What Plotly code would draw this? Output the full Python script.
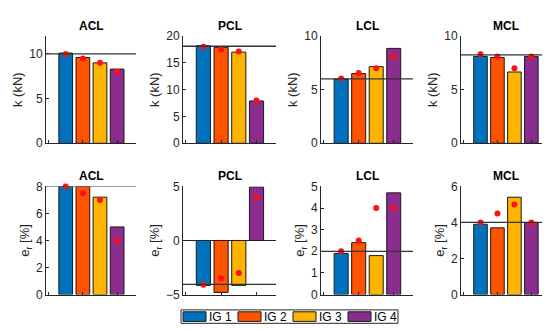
import plotly.graph_objects as go

ligaments = ["ACL", "PCL", "LCL", "MCL"]
groups = ["IG 1", "IG 2", "IG 3", "IG 4"]
colors = ["#0072BD", "#FF5300", "#FFB400", "#8B2C8F"]
xcat = [1, 2, 3, 4]

# Row 1: stiffness k (kN)
k_bars = {
    "ACL": [10.1, 9.6, 9.0, 8.3],
    "PCL": [18.2, 17.9, 17.0, 7.9],
    "LCL": [6.0, 6.5, 7.15, 8.85],
    "MCL": [8.1, 8.0, 6.65, 8.1],
}
k_dots = {
    "ACL": [10.0, 9.5, 9.0, 8.0],
    "PCL": [18.0, 17.5, 17.1, 8.0],
    "LCL": [6.05, 6.55, 7.0, 8.1],
    "MCL": [8.3, 8.1, 7.0, 8.1],
}
k_ref = {"ACL": 10.0, "PCL": 18.1, "LCL": 6.0, "MCL": 8.25}
k_range = {"ACL": [0, 12], "PCL": [0, 20], "LCL": [0, 10], "MCL": [0, 10]}
k_ticks = {"ACL": [0, 5, 10], "PCL": [0, 5, 10, 15, 20], "LCL": [0, 5, 10], "MCL": [0, 5, 10]}

# Row 2: e_r (%)
e_bars = {
    "ACL": [8.0, 8.0, 7.2, 5.0],
    "PCL": [-4.15, -4.8, -4.15, 4.95],
    "LCL": [1.9, 2.4, 1.8, 4.7],
    "MCL": [3.9, 3.7, 5.4, 4.0],
}
e_dots = {
    "ACL": [8.0, 7.5, 7.0, 4.0],
    "PCL": [-4.1, -3.5, -3.0, 4.0],
    "LCL": [2.0, 2.5, 4.0, 4.0],
    "MCL": [4.0, 4.5, 5.0, 4.0],
}
e_ref = {"ACL": 8.0, "PCL": -4.05, "LCL": 2.0, "MCL": 4.0}
e_range = {"ACL": [0, 8], "PCL": [-5, 5], "LCL": [0, 5], "MCL": [0, 6]}
e_ticks = {"ACL": [0, 2, 4, 6, 8], "PCL": [-5, 0, 5], "LCL": [0, 1, 2, 3, 4, 5], "MCL": [0, 2, 4, 6]}

W, H = 550, 329
col_px = [(38, 128), (175, 268), (313, 405), (453, 542)]
row_px = [(22, 134), (179, 292)]
XRANGE = [-0.15, 5.1]
AXC = "#262626"
FONT = "Liberation Sans, Arial, sans-serif"

fig = go.Figure()
layout = dict(
    width=W, height=H, margin=dict(l=0, r=0, t=0, b=0),
    paper_bgcolor="white", plot_bgcolor="white", showlegend=False,
    font=dict(family=FONT, size=12, color=AXC), bargap=0.2,
)
annotations = []
shapes = []

rows = [(k_bars, k_dots, k_ref, k_range, k_ticks, "k (kN)"),
        (e_bars, e_dots, e_ref, e_range, e_ticks, "e<sub>r</sub> [%]")]

idx = 0
for r, (bars, dots, ref, yr, yt, ylab) in enumerate(rows):
    for c, lig in enumerate(ligaments):
        idx += 1
        sfx = "" if idx == 1 else str(idx)
        xa, ya = "x" + sfx, "y" + sfx
        x0, x1 = col_px[c]
        top, bot = row_px[r]
        xdom = [x0 / W, x1 / W]
        ydom = [1 - bot / H, 1 - top / H]
        fig.add_trace(go.Bar(
            x=xcat, y=bars[lig], width=0.8, xaxis=xa, yaxis=ya,
            marker=dict(color=colors, line=dict(color="#1a1a1a", width=1)),
        ))
        fig.add_trace(go.Scatter(
            x=xcat, y=dots[lig], mode="markers", xaxis=xa, yaxis=ya,
            cliponaxis=False,
            marker=dict(color="#FF1010", size=6, line=dict(width=0)),
        ))
        layout["xaxis" + sfx] = dict(
            domain=xdom, range=XRANGE, anchor=ya, showgrid=False, zeroline=False,
            showline=True, linecolor=AXC, linewidth=1, tickvals=[0, 2, 4],
            ticks="inside", ticklen=3, tickcolor=AXC, showticklabels=False,
        )
        layout["yaxis" + sfx] = dict(
            domain=ydom, range=yr[lig], anchor=xa, showgrid=False,
            zeroline=(yr[lig][0] < 0), zerolinecolor=AXC, zerolinewidth=1,
            showline=True, linecolor=AXC, linewidth=1, tickvals=yt[lig],
            ticks="inside", ticklen=3, tickcolor=AXC,
            tickfont=dict(size=12, color=AXC),
            title=dict(text=ylab, font=dict(size=13, color=AXC), standoff=3),
        )
        shapes.append(dict(
            type="line", xref=xa + " domain", yref=ya, x0=0, x1=1,
            y0=ref[lig], y1=ref[lig], line=dict(color="#333333", width=1.3),
            layer="above",
        ))
        annotations.append(dict(
            text="<b>" + lig + "</b>", xref="paper", yref="paper",
            x=(xdom[0] + xdom[1]) / 2, y=ydom[1] + 1.0 / H,
            xanchor="center", yanchor="bottom", showarrow=False,
            font=dict(size=12, color="black", family=FONT),
        ))

# Legend box (drawn manually to mimic wide swatches)
lx0, lx1, ly0, ly1 = 173, 390, 308, 322
shapes.append(dict(type="rect", xref="paper", yref="paper",
                   x0=lx0 / W, x1=lx1 / W, y0=1 - ly1 / H, y1=1 - ly0 / H,
                   line=dict(color=AXC, width=1), fillcolor="white"))
for i, g in enumerate(groups):
    sx = 175 + 55 * i
    shapes.append(dict(type="rect", xref="paper", yref="paper",
                       x0=sx / W, x1=(sx + 23) / W, y0=1 - 320 / H, y1=1 - 310 / H,
                       line=dict(color="#1a1a1a", width=1), fillcolor=colors[i]))
    annotations.append(dict(text=g, xref="paper", yref="paper",
                            x=(sx + 24) / W, y=1 - 315 / H, xanchor="left",
                            yanchor="middle", showarrow=False,
                            font=dict(size=12, color="black", family=FONT)))

layout["shapes"] = shapes
layout["annotations"] = annotations
fig.update_layout(**layout)
fig.write_html("out.html")
